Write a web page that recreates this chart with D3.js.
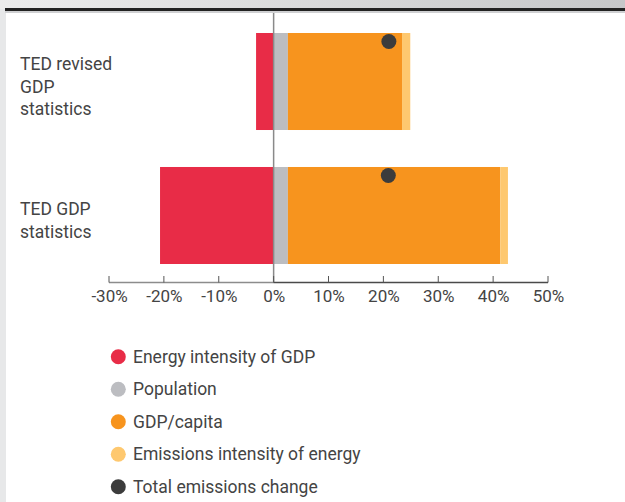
<!DOCTYPE html>
<html>
<head>
<meta charset="utf-8">
<script src="https://cdn.jsdelivr.net/npm/d3@7"></script>
<style>
  html, body { margin: 0; padding: 0; background: #ffffff; }
  svg { display: block; }
  text { font-family: Roboto, "Open Sans", sans-serif; }
</style>
</head>
<body>
<svg id="chart" width="625" height="502"></svg>
<script>
// ---- data ----
const categories = [["TED revised", "GDP", "statistics"], ["TED GDP", "statistics"]];
const categoryKeys = ["revised", "original"];
const seriesNames = ["Energy intensity of GDP", "Population", "GDP/capita", "Emissions intensity of energy"];
const energyIntensity = [-3.2, -20.7];
const population = [2.6, 2.6];
const gdpPerCapita = [20.8, 38.7];
const emissionsIntensity = [1.5, 1.4];
const totalChange = [21.0, 20.9];
const tickValues = [-30, -20, -10, 0, 10, 20, 30, 40, 50];
const legendNames = ["Energy intensity of GDP", "Population", "GDP/capita", "Emissions intensity of energy", "Total emissions change"];
const colors = ["#e82c47", "#bcbdc1", "#f7941e", "#fec86f", "#3c3c3c"];

const svg = d3.select("#chart");

// ---- page frame ----
const defs = svg.append("defs");
const grad = defs.append("linearGradient").attr("id", "topgrad").attr("x1", "0").attr("x2", "1").attr("y1", "0").attr("y2", "0");
grad.append("stop").attr("offset", "0").attr("stop-color", "#ececec");
grad.append("stop").attr("offset", "1").attr("stop-color", "#c6c7c9");
svg.append("rect").attr("x", 0).attr("y", 0).attr("width", 625).attr("height", 502).attr("fill", "#e7e8e9");
svg.append("rect").attr("x", 0).attr("y", 0).attr("width", 625).attr("height", 9).attr("fill", "url(#topgrad)");
svg.append("rect").attr("x", 6).attr("y", 13).attr("width", 619).attr("height", 489).attr("fill", "#ffffff");
svg.append("rect").attr("x", 5).attr("y", 8).attr("width", 620).attr("height", 3).attr("fill", "#222222");
svg.append("rect").attr("x", 5).attr("y", 11).attr("width", 620).attr("height", 2).attr("fill", "#cfd0d2");

// ---- scales ----
const x = d3.scaleLinear().domain([-30, 50]).range([109, 548]);
const y = d3.scaleBand().domain(categoryKeys).range([33, 264]).paddingInner(0.276).paddingOuter(0);

// stacked segments
const rows = categoryKeys.map((k, i) => {
  const segs = [];
  segs.push({ s: 0, x0: energyIntensity[i], x1: 0 });
  let acc = 0;
  [population[i], gdpPerCapita[i], emissionsIntensity[i]].forEach((v, j) => {
    segs.push({ s: j + 1, x0: acc, x1: acc + v });
    acc += v;
  });
  return { key: k, segs, total: totalChange[i], label: categories[i] };
});

const barG = svg.append("g");
rows.forEach(r => {
  barG.selectAll(null).data(r.segs).enter().append("rect")
    .attr("x", d => x(Math.min(d.x0, d.x1)))
    .attr("width", d => Math.abs(x(d.x1) - x(d.x0)))
    .attr("y", y(r.key))
    .attr("height", y.bandwidth())
    .attr("fill", d => colors[d.s]);
});

// zero line
svg.append("line")
  .attr("x1", x(0)).attr("x2", x(0))
  .attr("y1", 13).attr("y2", 283)
  .attr("stroke", "#8a8a8a").attr("stroke-width", 1.5);

// total dots
rows.forEach(r => {
  svg.append("circle")
    .attr("cx", x(r.total))
    .attr("cy", y(r.key) + 8.5)
    .attr("r", 7.5)
    .attr("fill", colors[4]);
});

// category labels
rows.forEach(r => {
  const n = r.label.length;
  const cy = y(r.key) + y.bandwidth() / 2 + 5;
  const t = svg.append("text").attr("x", 20).attr("font-size", 17.5).attr("fill", "#444");
  r.label.forEach((line, i) => {
    t.append("tspan").attr("x", 20)
      .attr("y", cy + (i - (n - 1) / 2) * 22.5)
      .attr("dy", "0.35em")
      .text(line);
  });
});

// axis
const axisY = 282.5;
const axis = d3.axisBottom(x).tickValues(tickValues).tickSize(0).tickFormat(d => d + "%");
const ag = svg.append("g").attr("transform", `translate(0,${axisY})`).call(axis);
ag.select(".domain").remove();
ag.selectAll("text").attr("y", 19).attr("dy", "0").attr("font-size", 17).attr("fill", "#444").attr("font-family", "Roboto, sans-serif");
// axis line: lighter on negative side, darker on positive side
svg.append("line").attr("x1", x(-30)).attr("x2", x(0)).attr("y1", axisY).attr("y2", axisY).attr("stroke", "#8c8c8c").attr("stroke-width", 1.5);
svg.append("line").attr("x1", x(0)).attr("x2", x(50)).attr("y1", axisY).attr("y2", axisY).attr("stroke", "#4a4a4a").attr("stroke-width", 1.5);
svg.selectAll(null).data(tickValues).enter().append("line")
  .attr("x1", d => x(d)).attr("x2", d => x(d))
  .attr("y1", axisY - 6.5).attr("y2", axisY)
  .attr("stroke", "#555").attr("stroke-width", 1);

// legend
const lg = svg.append("g");
legendNames.forEach((name, i) => {
  const cy = 356.7 + i * 32.5;
  lg.append("circle").attr("cx", 118.3).attr("cy", cy).attr("r", 7.5).attr("fill", colors[i]);
  lg.append("text").attr("x", 133).attr("y", cy).attr("dy", "0.35em")
    .attr("font-size", 17.5).attr("fill", "#444").text(name);
});
</script>
</body>
</html>
